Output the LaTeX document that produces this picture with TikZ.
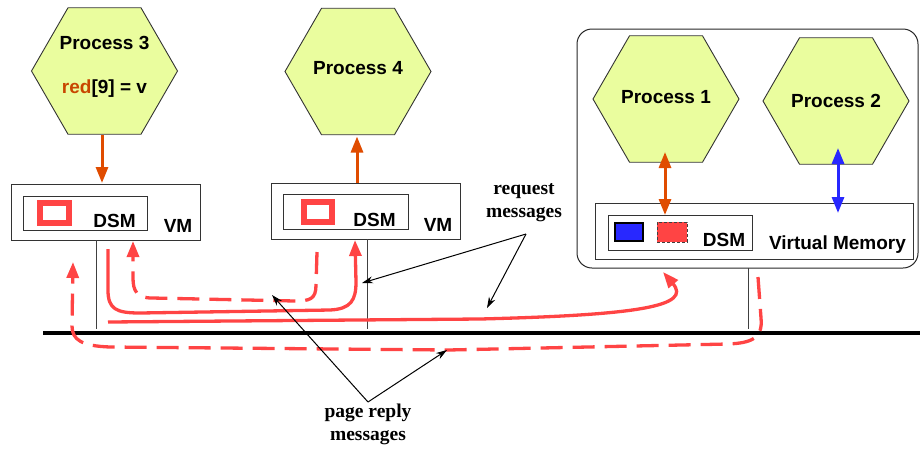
\documentclass[tikz,border=0pt]{standalone}
\usepackage{fontspec}
\setmainfont{Liberation Serif}
\setsansfont{Liberation Sans}
\usetikzlibrary{shapes.geometric,arrows.meta,calc}
\definecolor{hexfill}{RGB}{234,253,158}
\definecolor{orangec}{RGB}{224,76,0}
\definecolor{redc}{RGB}{255,68,68}
\definecolor{bluec}{RGB}{40,40,255}
\definecolor{redtxt}{RGB}{200,70,0}
\begin{document}
\begin{tikzpicture}[x=1pt,y=-1pt,
  hexa/.style={regular polygon, regular polygon sides=6, minimum size=146pt, inner sep=0pt, draw=black!80, line width=0.9pt, fill=hexfill},
  sf/.style={font=\sffamily\bfseries\fontsize{19}{22}\selectfont, inner sep=0pt},
  rm/.style={font=\rmfamily\bfseries\fontsize{19.5}{23}\selectfont, align=center, inner sep=0pt},
  box/.style={draw=black!80, line width=1pt, inner sep=0pt, fill=white},
  otip/.style={Triangle[length=16pt,width=12pt]},
  orr/.style={draw=orangec, line width=3pt, -{Triangle[length=16pt,width=12pt]}},
  orr2/.style={draw=orangec, line width=3pt, {Triangle[length=16pt,width=12pt]}-{Triangle[length=16pt,width=12pt]}},
  blr2/.style={draw=bluec, line width=3pt, {Triangle[length=16pt,width=12pt]}-{Triangle[length=16pt,width=12pt]}},
  redsolid/.style={draw=redc, line width=3.3pt},
  reddash/.style={draw=redc, line width=3.3pt, dash pattern=on 22pt off 10pt},
  rtip/.style={-{Triangle[length=16pt,width=12pt]}},
  note/.style={draw=black, line width=1pt, -{Stealth[length=11pt,width=7pt]}},
  vline/.style={draw=black!75, line width=1pt}
]
\useasboundingbox (0,0) rectangle (920,448);

% bus
\coordinate (busL) at (43,333);
\coordinate (busR) at (920,333);
\draw[line width=4pt] (busL) -- (busR);

% big machine box
\draw[draw=black!85, line width=1pt, rounded corners=15pt] (577,29) rectangle (918,268);
\coordinate (bigbot) at (748,268);

% VM 1
\node[box, minimum width=189pt, minimum height=56pt] (vm1) at (105.5,212) {};
\node[box, minimum width=124pt, minimum height=34pt] (dsm1) at (85,213) {};
\node[draw=redc, line width=6.5pt, minimum width=29pt, minimum height=20pt, inner sep=0pt] (sq1) at (54.5,213) {};
\node[sf] (dsm1t) at (114.5,220.5) {DSM};
\node[sf] (vm1t) at (178,226) {VM};

% VM 2
\node[box, minimum width=189pt, minimum height=56pt] (vm2) at (365.5,211) {};
\node[box, minimum width=125pt, minimum height=35pt] (dsm2) at (345.5,211.5) {};
\node[draw=redc, line width=6.5pt, minimum width=28pt, minimum height=20pt, inner sep=0pt] (sq2) at (318,212) {};
\node[sf] (dsm2t) at (374.5,219.5) {DSM};
\node[sf] (vm2t) at (438,225) {VM};

% VM 3
\node[box, minimum width=318pt, minimum height=56pt] (vm3) at (754,231) {};
\node[box, minimum width=144pt, minimum height=35pt] (dsm3) at (680,232.5) {};
\node[draw=black, line width=2pt, fill=bluec, minimum width=28pt, minimum height=18pt, inner sep=0pt] (bsq) at (629,232) {};
\node[draw=black!75, line width=0.9pt, dash pattern=on 3pt off 2pt, fill=redc, minimum width=30pt, minimum height=20pt, inner sep=0pt] (rsq) at (672,232) {};
\node[sf] (dsm3t) at (724,239.5) {DSM};
\node[sf] (vm3t) at (837.5,245) {Virtual Memory};

% drop lines
\draw[vline] (96,240) -- (96,329);
\draw[vline] (367,239) -- (367,329);
\draw[vline] (bigbot) -- (748,329);

% hexagons
\node[hexa] (p3) at (104.5,71) {};
\node[sf] (p3t) at (104.5,43) {Process 3};
\node[sf] (p3r) at (104.5,89) {\textcolor{redtxt}{red}[9] = v};
\node[hexa] (p4) at (358,71.5) {};
\node[sf] (p4t) at (358,68) {Process 4};
\node[hexa] (p1) at (666,99) {};
\node[sf] (p1t) at (666,97) {Process 1};
\node[hexa] (p2) at (836,101) {};
\node[sf] (p2t) at (836,101) {Process 2};

% process arrows
\draw[orr] (102,135) -- (102,183);
\draw[orr] (357,183) -- (357,136.5);
\draw[orr2] (665,152) -- (665,215);
\draw[blr2] (838,148) -- (838,213);

% red message paths
\draw[redsolid, rtip] (108,249) -- (108,290) .. controls (108,309) and (116,313) .. (140,313) -- (330,310) .. controls (351,309) and (356,300) .. (356,282) -- (355,240);
\draw[reddash, rtip] (317,252) -- (316,285) .. controls (316,299) and (310,301) .. (295,301) -- (152,298) .. controls (137,298) and (133,291) .. (133,278) -- (133,241);
\draw[redsolid, rtip] (108,322) -- (480,319) .. controls (640,315) and (692,306) .. (663,272);
\draw[reddash, rtip] (758,277) -- (761,318) .. controls (763,338) and (752,343) .. (728,344) -- (448,350) -- (110,347) .. controls (82,346) and (72,340) .. (72,326) -- (73,262);

% labels
\node[rm] (req) at (524,203) {request\\messages};
\node[rm] (rep) at (368,424) {page reply\\messages};
\coordinate (reqA) at (526,234);
\coordinate (repA) at (368,402);
\draw[note] (reqA) -- (362,283);
\draw[note] (reqA) -- (487,308);
\draw[note] (repA) -- (272,295);
\draw[note] (repA) -- (447,350);
\end{tikzpicture}
\end{document}
